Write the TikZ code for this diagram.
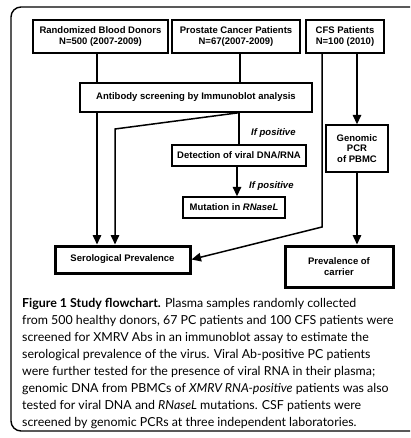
\documentclass[tikz,border=0pt]{standalone}
\usepackage{fontspec}
\setmainfont{Liberation Sans}
\newfontfamily\capfont{Lato}
\usetikzlibrary{arrows.meta,calc}
\begin{document}
\begin{tikzpicture}[x=1pt,y=-1pt,
  box/.style={draw, line width=1.4pt, font=\bfseries\fontsize{9.5}{10.5}\selectfont, align=center, inner sep=0pt},
  thickbox/.style={box, line width=3pt},
  conn/.style={line width=1.5pt},
  arr/.style={conn, -{Triangle[width=8.5pt,length=9.5pt]}},
  lbl/.style={font=\bfseries\itshape\fontsize{9.5}{10.5}\selectfont, inner sep=0pt},
  captxt/.style={font=\capfont\fontsize{12.4}{14}\selectfont, anchor=base west, inner sep=0pt}]
\useasboundingbox (0,0) rectangle (410,438);
\clip (0,0) rectangle (410,438);
\draw[line width=1.4pt, rounded corners=10pt] (440,7) -- (11,7) -- (11,431) -- (440,431);
% nodes
\node[box, minimum width=135pt, minimum height=33pt] (donors) at (100.5,36.5) {Randomized Blood Donors\\N=500 (2007-2009)};
\node[box, minimum width=128pt, minimum height=33pt] (prost) at (236,36.5) {Prostate Cancer Patients\\N=67(2007-2009)};
\node[box, minimum width=78pt, minimum height=33pt] (cfs) at (345,36.5) {CFS Patients\\N=100 (2010)};
\node[box, minimum width=232pt, minimum height=29pt] (ab) at (196,97.5) {Antibody screening by Immunoblot analysis};
\node[box, minimum width=134pt, minimum height=21pt] (det) at (239,155.5) {Detection of viral DNA/RNA};
\node[box, minimum width=102pt, minimum height=21pt] (mut) at (234,207.5) {Mutation in \textit{RNaseL}};
\node[thickbox, minimum width=135pt, minimum height=27pt] (sero) at (122.5,259.5) {Serological Prevalence};
\node[box, minimum width=62pt, minimum height=47pt] (gen) at (357,148.5) {Genomic\\PCR\\of PBMC};
\node[thickbox, minimum width=108pt, minimum height=41pt] (car) at (339,266.5) {Prevalence of\\carrier};
\node[lbl, anchor=west] (l1) at (251,133) {If positive};
\node[lbl, anchor=west] (l2) at (249,186) {If positive};
\coordinate (k1) at (115,129);
\coordinate (k2) at (322,227);
% connectors
\draw[conn] ([xshift=-3.5pt]donors.south) -- ([xshift=-3.5pt]donors.south |- ab.north);
\draw[conn] ([xshift=4pt]prost.south) -- ([xshift=4pt]prost.south |- ab.north);
\draw[arr] ([xshift=-25.5pt]sero.north |- ab.south) -- ([xshift=-25.5pt]sero.north);
\draw[arr] (det.north |- ab.south) -- (k1) -- (k1 |- sero.north);
\draw[conn] (det.north |- ab.south) -- (det.north);
\draw[arr] ([xshift=-2pt]det.south) -- ([xshift=-2pt]det.south |- mut.north);
\draw[arr] (k2 |- cfs.south) -- (k2) -- (sero.east);
\draw[arr] (gen.north |- cfs.south) -- (gen.north);
\draw[arr] (gen.south) -- (gen.south |- car.north);
% caption
\node[captxt] (c1) at (22,307) {\textbf{Figure 1 Study flowchart.} Plasma samples randomly collected};
\node[captxt] (c2) at (22,324) {from 500 healthy donors, 67 PC patients and 100 CFS patients were};
\node[captxt] (c3) at (22,341) {screened for XMRV Abs in an immunoblot assay to estimate the};
\node[captxt] (c4) at (22,358) {serological prevalence of the virus. Viral Ab-positive PC patients};
\node[captxt] (c5) at (22,375) {were further tested for the presence of viral RNA in their plasma;};
\node[captxt] (c6) at (22,392) {genomic DNA from PBMCs of \textit{XMRV RNA-positive} patients was also};
\node[captxt] (c7) at (22,409) {tested for viral DNA and \textit{RNaseL} mutations. CSF patients were};
\node[captxt] (c8) at (22,426) {screened by genomic PCRs at three independent laboratories.};
\end{tikzpicture}
\end{document}
